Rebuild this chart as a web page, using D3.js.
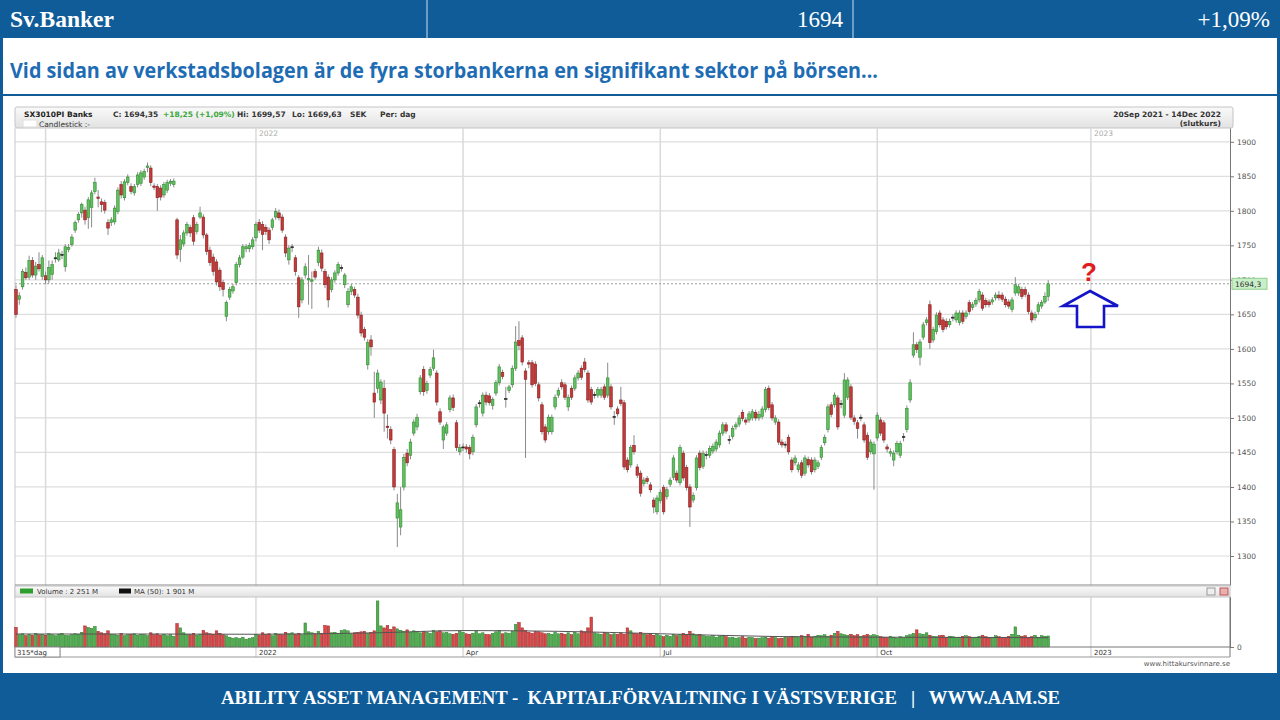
<!DOCTYPE html>
<html lang="sv">
<head>
<meta charset="UTF-8">
<title>Sv.Banker</title>
<script src="https://cdn.jsdelivr.net/npm/d3@7"></script>
<style>
    body { margin: 0; background: #fff; }
    svg { display: block; }
    .small { font-family: "DejaVu Sans", sans-serif; font-size: 7.5px; fill: #333; }
    .axis text { font-family: "DejaVu Sans", sans-serif; font-size: 7.5px; fill: #555; }
    .axis path, .axis line { stroke: #777; }
</style>
</head>
<body>
<svg width="1280" height="720"></svg>
<script>
// daily candles [open, high, low, close], 20 Sep 2021 - 14 Dec 2022 (315 days)
var candles2021 = [
    [1686,1692,1645,1650],[1672,1682,1664,1677],[1690,1716,1686,1712],[1711,1718,1700,1703],[1704,1735,1700,1728],
    [1728,1733,1703,1707],[1707,1726,1700,1720],[1722,1740,1712,1716],[1705,1736,1700,1732],[1706,1712,1694,1700],
    [1700,1728,1695,1718],[1708,1728,1700,1722],[1731,1740,1725,1732],[1729,1745,1726,1739],[1736,1742,1730,1737],
    [1719,1752,1712,1748],[1744,1752,1740,1747],[1751,1766,1748,1762],[1772,1786,1768,1783],[1787,1798,1783,1795],
    [1797,1812,1790,1809],[1801,1806,1780,1787],[1790,1820,1774,1816],[1805,1830,1776,1826],[1828,1848,1824,1841],
    [1820,1830,1805,1818],[1813,1818,1798,1809],[1812,1816,1796,1801],[1783,1788,1765,1775],[1783,1791,1778,1787],
    [1784,1808,1780,1804],[1799,1834,1795,1830],[1838,1843,1818,1823],[1819,1846,1815,1842],[1841,1853,1837,1849],
    [1835,1840,1824,1828],[1826,1839,1822,1835],[1838,1856,1834,1852],[1840,1859,1836,1855],[1849,1861,1845,1857],
    [1863,1870,1856,1865],[1862,1866,1836,1841],[1836,1840,1830,1834],[1835,1839,1800,1819],[1833,1837,1815,1820],
    [1823,1842,1819,1838],[1830,1845,1826,1841],[1840,1846,1836,1843],[1838,1847,1834,1843],[1787,1790,1730,1736],
    [1744,1765,1726,1758],[1752,1772,1748,1768],[1768,1784,1764,1780],[1776,1780,1762,1768],[1790,1794,1750,1756],
    [1770,1784,1766,1780],[1791,1806,1788,1797],[1791,1795,1760,1765],[1765,1768,1736,1741],[1743,1748,1720,1725],
    [1733,1738,1706,1712],[1726,1730,1692,1697],[1714,1718,1684,1690],[1696,1700,1676,1686],[1647,1670,1640,1667],
    [1675,1690,1671,1686],[1684,1694,1680,1690],[1696,1726,1692,1722],[1722,1736,1718,1732],[1733,1752,1730,1748],
    [1745,1752,1740,1748],[1745,1754,1740,1750],[1748,1762,1744,1758]
];
var candlesQ1 = [
    [1761,1784,1756,1780],[1783,1788,1768,1772],[1780,1785,1743,1766],[1776,1780,1765,1770],[1772,1776,1752,1758],
    [1776,1790,1772,1787],[1791,1804,1787,1799],[1797,1802,1786,1790],[1791,1795,1768,1772],[1762,1766,1733,1739],
    [1729,1750,1722,1746],[1747,1752,1740,1748],[1732,1736,1706,1712],[1703,1707,1645,1661],[1671,1704,1666,1700],
    [1707,1724,1702,1719],[1700,1736,1664,1702],[1698,1712,1658,1700],[1712,1716,1700,1704],[1725,1748,1720,1743],
    [1739,1744,1712,1717],[1712,1716,1688,1693],[1704,1708,1660,1671],[1686,1704,1682,1700],[1700,1714,1696,1710],
    [1710,1726,1706,1722],[1717,1722,1712,1718],[1693,1710,1688,1707],[1664,1688,1660,1683],[1683,1694,1678,1690],
    [1686,1690,1674,1678],[1675,1680,1644,1649],[1649,1654,1618,1623],[1628,1632,1612,1617],[1577,1614,1570,1609],
    [1613,1620,1590,1603],[1536,1567,1500,1523],[1543,1570,1536,1565],[1526,1556,1520,1552],[1543,1555,1480,1507],
    [1488,1505,1470,1486],[1483,1488,1462,1468],[1454,1458,1395,1400],[1355,1390,1313,1377],[1342,1400,1330,1367],
    [1400,1448,1395,1443],[1449,1455,1430,1435],[1446,1470,1440,1465],[1478,1498,1474,1494],[1487,1506,1482,1501],
    [1538,1562,1534,1558],[1570,1575,1532,1538],[1540,1554,1535,1550],[1562,1574,1558,1570],[1572,1599,1568,1587],
    [1565,1569,1518,1523],[1509,1514,1490,1494],[1468,1490,1455,1487],[1478,1494,1474,1490],[1512,1533,1508,1529],
    [1529,1534,1510,1515],[1493,1497,1452,1457],[1451,1462,1446,1457]
];
var candlesQ2 = [
    [1457,1463,1452,1458],[1458,1462,1450,1455],[1457,1461,1440,1448],[1451,1476,1446,1472],[1490,1520,1486,1516],
    [1521,1526,1515,1522],[1507,1537,1502,1533],[1533,1538,1518,1523],[1532,1536,1518,1522],[1518,1530,1512,1527],
    [1536,1555,1532,1551],[1551,1578,1547,1574],[1566,1570,1556,1560],[1527,1545,1515,1528],[1540,1548,1536,1545],
    [1548,1576,1544,1572],[1572,1633,1568,1610],[1612,1640,1598,1605],[1616,1620,1576,1581],[1568,1572,1442,1556],
    [1580,1584,1572,1578],[1580,1584,1544,1548],[1578,1582,1546,1550],[1548,1552,1524,1529],[1519,1523,1476,1480],
    [1487,1491,1464,1468],[1480,1505,1476,1501],[1480,1505,1476,1501],[1516,1534,1512,1530],[1533,1544,1529,1540],
    [1551,1556,1541,1545],[1548,1552,1526,1530],[1516,1534,1510,1530],[1543,1547,1526,1530],[1543,1562,1539,1558],
    [1558,1569,1554,1565],[1572,1576,1555,1559],[1581,1587,1566,1570],[1565,1569,1522,1526],[1541,1545,1519,1523],
    [1533,1538,1528,1534],[1533,1545,1529,1541],[1533,1545,1529,1541],[1545,1549,1526,1530],[1533,1580,1529,1558],
    [1545,1549,1512,1516],[1501,1510,1490,1502],[1513,1517,1502,1506],[1526,1545,1517,1521],[1522,1526,1425,1429],
    [1439,1443,1421,1425],[1432,1461,1428,1457],[1460,1475,1447,1451],[1429,1433,1413,1417],[1420,1424,1386,1391],
    [1405,1414,1401,1410],[1412,1416,1404,1408],[1403,1407,1392,1396],[1381,1385,1362,1371],[1364,1388,1360,1384]
];
var candlesQ3 = [
    [1380,1396,1376,1392],[1399,1403,1360,1364],[1386,1400,1382,1396],[1404,1414,1400,1410],[1414,1446,1410,1442],
    [1420,1424,1406,1410],[1406,1461,1402,1457],[1449,1453,1409,1413],[1428,1432,1395,1399],[1400,1404,1342,1371],
    [1381,1392,1377,1388],[1399,1446,1395,1442],[1449,1453,1424,1428],[1430,1453,1426,1449],[1446,1452,1440,1447],
    [1446,1460,1442,1456],[1452,1463,1448,1459],[1455,1469,1451,1465],[1461,1482,1457,1478],[1478,1494,1474,1490],
    [1490,1494,1477,1481],[1468,1475,1462,1469],[1473,1489,1469,1485],[1487,1494,1483,1490],[1491,1504,1487,1500],
    [1508,1512,1495,1499],[1497,1501,1490,1494],[1497,1510,1493,1506],[1500,1513,1496,1509],[1508,1512,1496,1500],
    [1500,1510,1496,1505],[1502,1517,1498,1513],[1512,1545,1508,1541],[1543,1547,1511,1515],[1519,1523,1496,1500],
    [1494,1504,1490,1500],[1494,1498,1461,1465],[1465,1469,1457,1461],[1461,1466,1456,1462],[1472,1476,1447,1451],
    [1439,1443,1421,1425],[1435,1446,1431,1442],[1425,1436,1421,1432],[1435,1439,1413,1417],[1420,1446,1416,1442],
    [1440,1444,1428,1432],[1439,1443,1418,1422],[1425,1443,1421,1439],[1430,1439,1426,1435],[1443,1461,1439,1457],
    [1464,1476,1460,1472],[1483,1520,1479,1516],[1519,1523,1501,1505],[1519,1537,1515,1533],[1529,1533,1483,1487],
    [1520,1526,1514,1521],[1504,1565,1500,1555],[1530,1559,1526,1555],[1545,1549,1497,1501],[1500,1504,1490,1495],
    [1493,1497,1470,1485],[1500,1505,1495,1501],[1490,1494,1464,1468],[1475,1479,1439,1443],[1451,1469,1447,1465],
    [1448,1466,1396,1462]
];
var candlesQ4 = [
    [1471,1508,1467,1504],[1497,1501,1474,1478],[1493,1497,1464,1468],[1458,1462,1450,1455],[1449,1456,1444,1451],
    [1439,1453,1430,1449],[1451,1467,1447,1463],[1446,1467,1442,1463],[1472,1478,1466,1473],[1483,1518,1479,1514],
    [1526,1556,1522,1551],[1591,1624,1587,1606],[1606,1610,1594,1599],[1588,1614,1576,1610],[1617,1639,1613,1635],
    [1638,1646,1634,1642],[1664,1670,1600,1609],[1613,1632,1609,1628],[1625,1653,1621,1649],[1652,1656,1631,1635],
    [1642,1646,1624,1628],[1640,1644,1628,1632],[1635,1644,1631,1640],[1645,1650,1640,1646],[1642,1656,1638,1652],
    [1638,1656,1634,1652],[1652,1656,1636,1640],[1647,1656,1643,1652],[1667,1671,1650,1654],[1660,1668,1656,1664],
    [1665,1674,1661,1670],[1671,1687,1667,1683],[1678,1682,1655,1659],[1670,1674,1660,1664],[1668,1672,1660,1664],
    [1668,1675,1664,1671],[1674,1682,1670,1678],[1678,1684,1670,1674],[1678,1682,1668,1672],[1672,1676,1660,1664],
    [1668,1672,1658,1662],[1657,1675,1653,1671],[1681,1704,1677,1693],[1681,1694,1677,1690],[1686,1690,1672,1676],
    [1686,1690,1675,1679],[1678,1682,1650,1654],[1652,1656,1638,1642],[1645,1654,1641,1650],[1654,1668,1650,1664],
    [1662,1671,1658,1667],[1668,1682,1665,1676],[1676,1699.57,1669.63,1694.35]
];

// daily volume, millions
var volume2021 = [4000,2500,2700,2300,2600,2400,2800,2500,2600,2400,2700,2500,2300,2600,2800,2400,2300,2500,2700,2600,
    3000,4300,4000,3800,4200,3200,2900,2700,3300,2600,2500,2400,2800,2300,2500,2600,2700,2400,2600,2500,
    2300,2900,2500,2700,2400,2600,2300,2500,2200,4800,3900,2900,2600,2500,2800,2400,2600,3400,2900,2700,
    2600,3300,2800,2500,2300,2000,1800,1900,1700,2000,1600,1800,1900];
var volumeQ1 = [2600,2400,2900,2500,2700,2300,2800,2600,2500,3000,2700,2900,2600,2800,2500,4900,3100,2900,2700,3200,
    2800,4400,4300,2900,3000,2800,3400,3500,3300,2700,2900,3000,3100,3200,2800,3000,3300,9400,4300,3900,
    4400,3600,4100,3700,3400,3200,3500,3000,3300,3100,2900,3200,3000,2800,3400,3100,3300,2900,3000,2700,
    2600,2800,3200];
var volumeQ2 = [3000,2700,2600,2800,3300,2700,2900,2600,2500,2800,3100,3400,2700,2900,2800,3200,4600,5000,3900,3400,
    3000,2800,3200,3100,2900,2700,2800,2600,3000,2700,2800,2600,2900,2500,3000,2700,3300,3100,3900,6100,
    2900,2700,2600,3000,2800,2500,2700,2600,2900,2600,3900,3300,2800,2700,3000,2600,2500,2700,2400,2600];
var volumeQ3 = [2300,2100,2400,2200,2600,2300,2500,2800,2400,3200,2700,2400,2600,2300,2200,2100,2300,2000,2200,2400,
    2100,1900,2000,1800,1900,2100,1800,2000,1900,1700,1800,1900,2000,1800,2100,1900,1700,1800,2000,1900,
    2200,2100,2000,2300,2100,2600,2000,2200,2400,2300,2500,2200,2400,2800,3200,2700,2500,2400,2600,2300,
    2500,2200,2400,2600,2300,2500];
var volumeQ4 = [2300,2100,2000,1900,2200,2000,1800,2100,1900,2300,2500,2800,3500,2700,2600,2900,2400,2200,2100,2300,
    2400,2000,2200,2100,1900,2000,2200,2300,2100,1900,2000,2200,2400,2100,1800,2000,2300,2100,1900,2000,
    2200,2600,4100,2400,2200,2300,1900,2100,2400,2000,2300,2200,2251];

// MA(50) of volume, read at a few days
var maDay = [0, 40, 73, 110, 136, 165, 196, 230, 262, 290, 314];
var maValue = [2650, 2650, 2600, 2900, 3350, 3200, 2700, 2150, 2000, 1950, 1901];

// date grid lines (trading day index) and their labels
var dateDay = [9, 73, 136, 196, 262, 327];
var dateLabel = ["Oct", "2022", "Apr", "Jul", "Oct", "2023"];

var priceTicks = d3.range(1300, 1901, 50);
var lastClose = 1694.35;

var candles = [].concat(candles2021, candlesQ1, candlesQ2, candlesQ3, candlesQ4).map(function (d, i) {
    return {i: i, o: d[0], h: Math.max(d[1], d[0], d[3]), l: Math.min(d[2], d[0], d[3]), c: d[3]};
});
var volumes = [].concat(volume2021, volumeQ1, volumeQ2, volumeQ3, volumeQ4);

var svg = d3.select("svg");
var blue = "#0f5c99";

// ---- slide frame ----
svg.append("rect").attr("x", 0).attr("y", 0).attr("width", 1280).attr("height", 38).attr("fill", blue);
svg.append("rect").attr("x", 0).attr("y", 673).attr("width", 1280).attr("height", 47).attr("fill", blue);
svg.append("rect").attr("x", 0).attr("y", 38).attr("width", 3).attr("height", 636).attr("fill", blue);
svg.append("rect").attr("x", 1277).attr("y", 38).attr("width", 3).attr("height", 636).attr("fill", blue);
svg.append("rect").attr("x", 0).attr("y", 94).attr("width", 1280).attr("height", 2).attr("fill", blue);
[427, 853].forEach(function (px) {
    svg.append("line").attr("x1", px).attr("x2", px).attr("y1", 0).attr("y2", 38)
        .attr("stroke", "#cfe0ee").attr("stroke-width", 1);
});
svg.append("text").text("Sv.Banker").attr("x", 10).attr("y", 27)
    .attr("textLength", 104).attr("lengthAdjust", "spacingAndGlyphs")
    .style("font-family", "Liberation Serif").style("font-weight", "bold").style("font-size", "23px").attr("fill", "#fff");
svg.append("text").text("1694").attr("x", 843).attr("y", 27).attr("text-anchor", "end")
    .style("font-family", "Liberation Serif").style("font-size", "23px").attr("fill", "#fff");
svg.append("text").text("+1,09%").attr("x", 1270).attr("y", 27).attr("text-anchor", "end")
    .style("font-family", "Liberation Serif").style("font-size", "23px").attr("fill", "#fff");
svg.append("text").text("Vid sidan av verkstadsbolagen är de fyra storbankerna en signifikant sektor på börsen...")
    .attr("x", 10).attr("y", 78).attr("textLength", 868).attr("lengthAdjust", "spacingAndGlyphs")
    .style("font-family", "Open Sans").style("font-weight", "bold").style("font-size", "22px").attr("fill", "#1e6cb4");
svg.append("text").text("ABILITY ASSET MANAGEMENT -  KAPITALFÖRVALTNING I VÄSTSVERIGE   |   WWW.AAM.SE")
    .attr("x", 221).attr("y", 704).attr("textLength", 839).attr("lengthAdjust", "spacingAndGlyphs")
    .style("white-space", "pre").style("font-family", "Liberation Serif").style("font-weight", "bold")
    .style("font-size", "18px").attr("fill", "#fff");

// ---- chart widget ----
var left = 15, right = 1230, plotTop = 128, priceBottom = 585, volTop = 597, volBottom = 647;
var x = d3.scaleLinear().domain([-0.3, 369]).range([left, 1229]);
var y = d3.scaleLinear().domain([1258, 1920]).range([priceBottom, plotTop]);
var yv = d3.scaleLinear().domain([0, 10200]).range([volBottom, volTop]);

var grad = svg.append("defs").append("linearGradient").attr("id", "strip").attr("x1", 0).attr("x2", 0).attr("y1", 0).attr("y2", 1);
grad.append("stop").attr("offset", "0%").attr("stop-color", "#fafafa");
grad.append("stop").attr("offset", "100%").attr("stop-color", "#e2e2e2");

// header strip
svg.append("rect").attr("x", left).attr("y", 107).attr("width", 1218).attr("height", 21).attr("rx", 2)
    .attr("fill", "url(#strip)").attr("stroke", "#c4c4c4");
var head = [
    {t: "SX3010PI Banks", x: 24, c: "#222"}, {t: "C: 1694,35", x: 113, c: "#333"},
    {t: "+18,25 (+1,09%)", x: 163, c: "#3aa83a"}, {t: "Hi: 1699,57", x: 237, c: "#333"},
    {t: "Lo: 1669,63", x: 292, c: "#333"}, {t: "SEK", x: 350, c: "#333"}, {t: "Per: dag", x: 380, c: "#333"}
];
svg.selectAll(".head").data(head).enter().append("text").attr("class", "small")
    .attr("x", function (d) { return d.x; }).attr("y", 117).text(function (d) { return d.t; })
    .style("font-weight", "bold").style("fill", function (d) { return d.c; });
svg.append("rect").attr("x", 23).attr("y", 120).attr("width", 14).attr("height", 7).attr("fill", "#fff").attr("stroke", "#ddd");
svg.append("text").attr("class", "small").attr("x", 39).attr("y", 126.5).text("Candlestick :-");
svg.append("text").attr("class", "small").attr("x", 1221).attr("y", 117).attr("text-anchor", "end")
    .style("font-weight", "bold").text("20Sep 2021 - 14Dec 2022");
svg.append("text").attr("class", "small").attr("x", 1221).attr("y", 126).attr("text-anchor", "end")
    .style("font-weight", "bold").text("(slutkurs)");

// price grid
svg.selectAll(".hgrid").data(priceTicks).enter().append("line")
    .attr("x1", left).attr("x2", right).attr("y1", function (d) { return y(d); }).attr("y2", function (d) { return y(d); })
    .attr("stroke", "#dedede").attr("stroke-width", 1.2);
svg.selectAll(".vgrid").data(dateDay).enter().append("line")
    .attr("x1", function (d) { return x(d); }).attr("x2", function (d) { return x(d); })
    .attr("y1", plotTop).attr("y2", volBottom + 10).attr("stroke", "#dadada").attr("stroke-width", 1.5);
svg.selectAll(".yearLab").data(dateDay.filter(function (d, i) { return /^\d{4}$/.test(dateLabel[i]); }))
    .enter().append("text").attr("class", "small").style("fill", "#aaa")
    .attr("x", function (d) { return x(d) + 3; }).attr("y", 136)
    .text(function (d) { return dateLabel[dateDay.indexOf(d)]; });
svg.append("line").attr("x1", left).attr("x2", left).attr("y1", plotTop).attr("y2", volBottom + 10).attr("stroke", "#c8c8c8");

// last close line
svg.append("line").attr("x1", left).attr("x2", right).attr("y1", y(lastClose)).attr("y2", y(lastClose))
    .attr("stroke", "#9a9a9a").attr("stroke-dasharray", "2,2");

// candles
var g = svg.append("g");
function col(d) {
    if (Math.abs(d.c - d.o) < 2) return ["#333", "#222"];
    return d.c > d.o ? ["#62c062", "#2f8a2f"] : ["#c23a3a", "#8a1f1f"];
}
g.selectAll(".wick").data(candles).enter().append("line")
    .attr("x1", function (d) { return x(d.i); }).attr("x2", function (d) { return x(d.i); })
    .attr("y1", function (d) { return y(d.h); }).attr("y2", function (d) { return y(d.l); })
    .attr("stroke", "#8a8a8a").attr("stroke-width", 1);
g.selectAll(".body").data(candles).enter().append("rect")
    .attr("x", function (d) { return x(d.i) - 1.3; }).attr("width", 2.6)
    .attr("y", function (d) { return y(Math.max(d.o, d.c)); })
    .attr("height", function (d) { return Math.max(1, y(Math.min(d.o, d.c)) - y(Math.max(d.o, d.c))); })
    .attr("fill", function (d) { return col(d)[0]; }).attr("stroke", function (d) { return col(d)[1]; })
    .attr("stroke-width", 0.6);

// price axis
svg.append("g").attr("class", "axis").attr("transform", "translate(" + right + ",0)")
    .call(d3.axisRight(y).tickValues(priceTicks).tickSize(4).tickSizeOuter(0).tickFormat(d3.format("d")));
svg.append("rect").attr("x", right + 2).attr("y", y(lastClose) - 5.5).attr("width", 35).attr("height", 11)
    .attr("fill", "#c8efc8").attr("stroke", "#8fcf8f");
svg.append("text").attr("class", "small").attr("x", right + 5).attr("y", y(lastClose) + 3).text("1694,3");
svg.append("line").attr("x1", left).attr("x2", right).attr("y1", priceBottom).attr("y2", priceBottom).attr("stroke", "#888");

// volume strip
svg.append("rect").attr("x", left).attr("y", 586).attr("width", 1215).attr("height", 11)
    .attr("fill", "url(#strip)").attr("stroke", "#c4c4c4");
svg.append("rect").attr("x", 20).attr("y", 588.5).attr("width", 13).attr("height", 5).attr("fill", "#2e9e2e");
svg.append("text").attr("class", "small").style("font-size", "7px").attr("x", 37).attr("y", 594).text("Volume : 2 251 M");
svg.append("rect").attr("x", 119).attr("y", 588.5).attr("width", 12).attr("height", 5).attr("fill", "#111");
svg.append("text").attr("class", "small").style("font-size", "7px").attr("x", 134).attr("y", 594).text("MA (50): 1 901 M");
svg.append("rect").attr("x", 1207).attr("y", 588).attr("width", 8).attr("height", 7).attr("fill", "#eee").attr("stroke", "#999");
svg.append("rect").attr("x", 1220).attr("y", 588).attr("width", 8).attr("height", 7).attr("fill", "#e9b0b0").attr("stroke", "#b55");

// volume bars
g.selectAll(".vol").data(volumes).enter().append("rect")
    .attr("x", function (d, i) { return x(i) - 1.3; }).attr("width", 2.6)
    .attr("y", function (d) { return yv(d); }).attr("height", function (d) { return volBottom - yv(d); })
    .attr("fill", function (d, i) { return candles[i].c >= candles[i].o ? "#4fae4f" : "#d94848"; })
    .attr("stroke", function (d, i) { return candles[i].c >= candles[i].o ? "#2a7d2a" : "#9c2424"; })
    .attr("stroke-width", 0.5);
svg.append("path").datum(maDay)
    .attr("d", d3.line().x(function (d) { return x(d); })
        .y(function (d, i) { return yv(maValue[i]); }).curve(d3.curveMonotoneX))
    .attr("fill", "none").attr("stroke", "#555").attr("stroke-width", 1);

// volume axis and date band
svg.append("g").attr("class", "axis").attr("transform", "translate(" + right + ",0)")
    .call(d3.axisRight(yv).tickValues([0]).tickSize(4).tickSizeOuter(0));
svg.append("line").attr("x1", right).attr("x2", right).attr("y1", volTop).attr("y2", volBottom + 10).attr("stroke", "#777");
svg.append("line").attr("x1", left).attr("x2", right).attr("y1", volBottom).attr("y2", volBottom).attr("stroke", "#777");
svg.append("line").attr("x1", left).attr("x2", right).attr("y1", volBottom + 10).attr("y2", volBottom + 10).attr("stroke", "#999");
svg.selectAll(".dateLab").data(dateDay).enter().append("text").attr("class", "small").style("font-size", "7px")
    .attr("x", function (d) { return x(d) + 3; }).attr("y", volBottom + 8)
    .text(function (d, i) { return dateLabel[i]; });
svg.append("rect").attr("x", left).attr("y", volBottom).attr("width", 45).attr("height", 10)
    .attr("fill", "#fff").attr("stroke", "#888");
svg.append("text").attr("class", "small").style("font-size", "7px").attr("x", 17).attr("y", volBottom + 8).text("315*dag");
svg.append("text").attr("class", "small").style("font-size", "7px").style("fill", "#555")
    .attr("x", 1230).attr("y", 666).attr("text-anchor", "end").text("www.hittakursvinnare.se");

// question mark and arrow
svg.append("text").text("?").attr("x", 1089).attr("y", 281).attr("text-anchor", "middle")
    .style("font-family", "Liberation Sans").style("font-weight", "bold").style("font-size", "26px").attr("fill", "#e01c1c");
svg.append("polygon")
    .attr("points", [[1090, 291], [1118, 306], [1104, 306], [1104, 327], [1077, 327], [1077, 306], [1063, 306]].join(" "))
    .attr("fill", "#fff").attr("stroke", "#1414c8").attr("stroke-width", 2.6);
</script>
</body>
</html>
